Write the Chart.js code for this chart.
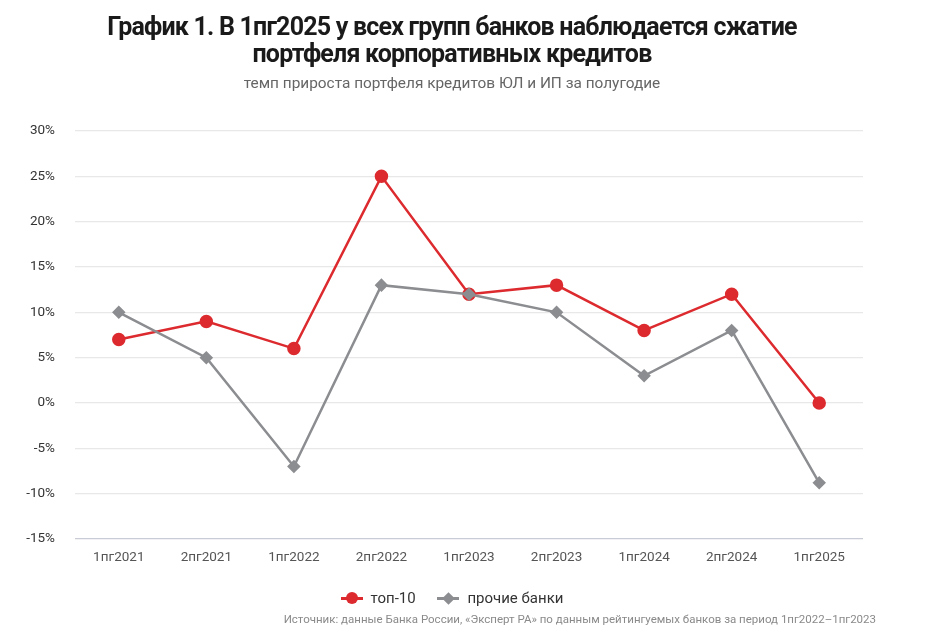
<!DOCTYPE html>
<html>
<head>
<meta charset="utf-8">
<script src="https://cdn.jsdelivr.net/npm/chart.js@4"></script>
<style>
  html, body { margin:0; padding:0; background:#fff; }
  #wrap { position:relative; width:932px; height:634px; font-family: Roboto, "Noto Sans", sans-serif; }
  #title { position:absolute; left:0; top:13px; width:904px; text-align:center; font-weight:700; font-size:25px; line-height:27px; color:#1a1a1a; letter-spacing:-0.8px; }
  #sub { position:absolute; left:0; top:74px; width:904px; text-align:center; font-size:15.4px; color:#666; }
  #legend { position:absolute; left:0; top:589px; width:904px; text-align:center; font-size:15px; color:#333; }
  .li { display:inline-flex; align-items:center; margin:0 9px; }
  .mk { position:relative; width:22px; height:12px; margin-right:8px; }
  .mk .ln { position:absolute; left:0; top:5px; width:22px; height:2.5px; }
  .mk .dot { position:absolute; left:5px; top:0; width:12px; height:12px; border-radius:50%; }
  .mk .dia { position:absolute; left:6.5px; top:1.5px; width:9px; height:9px; transform:rotate(45deg); }
  #src { position:absolute; right:56px; top:612px; font-size:11.5px; color:#8a8a8a; }
  canvas { position:absolute; left:0; top:0; }
</style>
</head>
<body>
<div id="wrap">
  <canvas id="c" width="932" height="634"></canvas>
  <div id="title">График 1. В 1пг2025 у всех групп банков наблюдается сжатие<br>портфеля корпоративных кредитов</div>
  <div id="sub">темп прироста портфеля кредитов ЮЛ и ИП за полугодие</div>
  <div id="legend">
    <span class="li"><span class="mk"><span class="ln" style="background:#dc2a2e"></span><span class="dot" style="background:#dc2a2e"></span></span>топ-10</span>
    <span class="li"><span class="mk"><span class="ln" style="background:#8b8d90"></span><span class="dia" style="background:#8b8d90"></span></span>прочие банки</span>
  </div>
  <div id="src">Источник: данные Банка России, «Эксперт РА» по данным рейтингуемых банков за период 1пг2022–1пг2023</div>
</div>
<script>
const categories = ["1пг2021","2пг2021","1пг2022","2пг2022","1пг2023","2пг2023","1пг2024","2пг2024","1пг2025"];
const top10 = [7, 9, 6, 25, 12, 13, 8, 12, 0];
const otherBanks = [10, 5, -7, 13, 12, 10, 3, 8, -8.8];
const yMin = -15, yMax = 30, yStep = 5;

new Chart(document.getElementById('c'), {
  type: 'line',
  data: {
    labels: categories,
    datasets: [
      { label: 'прочие банки', data: otherBanks, borderColor: '#8b8d90', backgroundColor: '#8b8d90',
        borderWidth: 2.5, pointStyle: 'rectRot', pointRadius: 5, pointHoverRadius: 5, tension: 0 },
      { label: 'топ-10', data: top10, borderColor: '#dc2a2e', backgroundColor: '#dc2a2e',
        borderWidth: 2.5, pointStyle: 'circle', pointRadius: 5.5, pointHoverRadius: 5.5, tension: 0 }
    ]
  },
  options: {
    responsive: false,
    animation: false,
    layout: { padding: { top: 131, right: 69, bottom: 55, left: 0 } },
    plugins: { legend: { display: false }, title: { display: false }, tooltip: { enabled: false } },
    scales: {
      x: {
        offset: true,
        grid: { display: false, drawTicks: false },
        border: { display: false },
        ticks: { color: '#555', font: { family: 'Roboto', size: 13.5 }, padding: 11, maxRotation: 0 },
        afterFit: s => { s.height = 40; }
      },
      y: {
        min: yMin, max: yMax,
        grid: { color: ctx => ctx.tick && ctx.tick.value === yMin ? '#c9ccd6' : '#e8e8e8', lineWidth: 1.3, drawTicks: false },
        border: { display: false },
        ticks: { stepSize: yStep, color: '#333', font: { family: 'Roboto', size: 13.5 }, padding: 20,
                 callback: v => v + '%' },
        afterFit: s => { s.width = 75; }
      }
    }
  }
});
</script>
</body>
</html>
